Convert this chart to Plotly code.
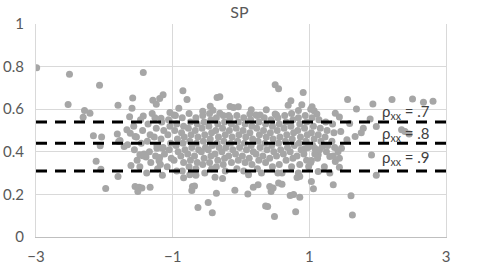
import plotly.graph_objects as go

# ---- data ----
upper_tail = [(-2.99,0.795),(-2.51,0.764),(-2.53,0.622),(-2.07,0.713),(-2.29,0.594),(-2.21,0.581),(-2.31,0.562),
    (-1.80,0.618),(-1.43,0.772),(-1.585,0.652),(-1.595,0.604),(-1.63,0.565),(-1.29,0.642),(-1.24,0.623),(-1.19,0.650),
    (-1.14,0.668),(-0.85,0.687),(-0.79,0.645),(-0.91,0.604),(-1.43,0.568),(-1.30,0.580),(-1.04,0.585),(-0.98,0.573),
    (-1.17,0.557),(-0.56,0.590),(-0.45,0.614),(-0.35,0.655),(-0.31,0.658),(-0.16,0.613),(-0.11,0.608),(-0.31,0.581),
    (-0.41,0.595),(-0.18,0.571),(-0.04,0.612),(0.50,0.715),(0.55,0.696),(0.91,0.678),(0.73,0.640),(0.69,0.618),
    (0.89,0.621),(1.04,0.612),(1.07,0.593),(1.02,0.600),(0.84,0.594),(1.56,0.646),(1.69,0.601),(1.93,0.625),
    (2.21,0.646),(2.51,0.648),(2.67,0.633),(2.81,0.637),(1.44,0.563),(1.89,0.554),(0.37,0.597),(0.15,0.597),
    (0.13,0.578),(0.22,0.573),(0.28,0.573),(0.52,0.573),(0.50,0.578),(1.11,0.578),(1.38,0.581),(1.59,0.533),
    (1.98,0.519),(1.79,0.511),(1.46,0.495),(1.76,0.490),(2.35,0.503),(2.40,0.495),(2.46,0.483),(1.67,0.472),(1.55,0.456)]

left_tail = [(-1.67,0.503),(-1.62,0.487),(-1.55,0.472),(-1.81,0.484),(-2.16,0.475),(-2.04,0.469),(-1.77,0.453),
    (-1.66,0.433),(-1.71,0.425),(-1.79,0.448),(-2.06,0.428),(-1.23,0.417),(-1.15,0.417),(-1.44,0.381),(-1.39,0.376),
    (-1.19,0.373),(-1.20,0.358),(-2.12,0.356),(-2.05,0.318),(-1.80,0.284),(-1.61,0.336),(-1.98,0.228),(-1.55,0.237),
    (-1.49,0.233),(-1.51,0.214),(-1.33,0.233),(-1.45,0.230),(-1.48,0.386)]

lower_tail = [(-0.84,0.278),(-0.75,0.292),(-0.71,0.237),(-0.68,0.240),(-0.72,0.218),(-0.63,0.138),(-0.48,0.162),
    (-0.42,0.114),(-0.36,0.205),(-0.09,0.220),(-0.66,0.290),(-0.38,0.280),(-0.27,0.275),(0.10,0.202),(0.18,0.233),
    (0.25,0.245),(0.42,0.237),(0.44,0.214),(0.55,0.253),(0.60,0.248),(0.47,0.230),(0.72,0.195),(0.77,0.200),
    (0.86,0.187),(1.03,0.261),(1.06,0.226),(1.35,0.245),(0.39,0.143),(0.36,0.146),(0.49,0.096),(0.80,0.118),
    (0.82,0.279),(0.60,0.300),(0.11,0.292),(0.30,0.300),(1.03,0.359),(0.99,0.331),(0.86,0.284),(1.19,0.425),
    (1.13,0.386),(1.30,0.378),(1.38,0.354),(1.13,0.308),(1.30,0.300),(1.44,0.328),(1.44,0.370),(1.47,0.417),
    (0.93,0.414),(1.08,0.417),(1.42,0.400),(1.61,0.194),(1.63,0.103),(1.91,0.385),(1.98,0.290)]

core = [(-1.57,0.52),(-1.53,0.47),(-1.56,0.41),(-1.52,0.36),
    (-1.47,0.55),(-1.44,0.50),(-1.46,0.44),(-1.42,0.39),(-1.48,0.33),
    (-1.36,0.53),(-1.33,0.48),(-1.37,0.45),(-1.34,0.40),(-1.32,0.35),(-1.38,0.30),
    (-1.26,0.56),(-1.24,0.51),(-1.27,0.47),(-1.23,0.43),(-1.25,0.38),(-1.22,0.32),
    (-1.16,0.54),(-1.13,0.50),(-1.17,0.46),(-1.14,0.42),(-1.12,0.39),(-1.18,0.34),(-1.15,0.29),
    (-1.06,0.55),(-1.04,0.52),(-1.07,0.48),(-1.03,0.44),(-1.05,0.41),(-1.02,0.37),(-1.08,0.33),
    (-0.96,0.57),(-0.94,0.53),(-0.97,0.50),(-0.93,0.46),(-0.95,0.43),(-0.92,0.40),(-0.98,0.36),(-0.94,0.31),
    (-0.86,0.56),(-0.84,0.52),(-0.87,0.49),(-0.83,0.47),(-0.85,0.44),(-0.82,0.41),(-0.88,0.38),(-0.84,0.35),(-0.86,0.31),
    (-0.76,0.58),(-0.74,0.54),(-0.77,0.51),(-0.73,0.48),(-0.75,0.45),(-0.72,0.42),(-0.78,0.39),(-0.74,0.36),(-0.76,0.33),(-0.73,0.30),
    (-0.66,0.56),(-0.64,0.53),(-0.67,0.50),(-0.63,0.47),(-0.65,0.44),(-0.62,0.41),(-0.68,0.38),(-0.64,0.35),(-0.66,0.32),
    (-0.56,0.57),(-0.54,0.54),(-0.57,0.51),(-0.53,0.48),(-0.55,0.45),(-0.52,0.42),(-0.58,0.40),(-0.54,0.37),(-0.56,0.34),(-0.53,0.30),
    (-0.46,0.58),(-0.44,0.55),(-0.47,0.52),(-0.43,0.49),(-0.45,0.46),(-0.42,0.43),(-0.48,0.41),(-0.44,0.38),(-0.46,0.35),(-0.43,0.32),
    (-0.36,0.56),(-0.34,0.53),(-0.37,0.50),(-0.33,0.47),(-0.35,0.44),(-0.32,0.42),(-0.38,0.39),(-0.34,0.36),(-0.36,0.33),
    (-0.26,0.57),(-0.24,0.54),(-0.27,0.51),(-0.23,0.48),(-0.25,0.45),(-0.22,0.42),(-0.28,0.40),(-0.24,0.37),(-0.26,0.34),(-0.23,0.31),
    (-0.16,0.56),(-0.14,0.53),(-0.17,0.50),(-0.13,0.47),(-0.15,0.44),(-0.12,0.41),(-0.18,0.38),(-0.14,0.35),
    (-0.06,0.57),(-0.04,0.54),(-0.07,0.51),(-0.03,0.48),(-0.05,0.45),(-0.02,0.42),(-0.08,0.39),(-0.04,0.36),(-0.06,0.32),
    (0.04,0.56),(0.06,0.53),(0.03,0.50),(0.07,0.47),(0.05,0.44),(0.08,0.41),(0.02,0.38),(0.06,0.35),(0.04,0.31),
    (0.14,0.55),(0.16,0.52),(0.13,0.49),(0.17,0.46),(0.15,0.43),(0.18,0.40),(0.12,0.37),(0.16,0.34),
    (0.24,0.57),(0.26,0.54),(0.23,0.51),(0.27,0.48),(0.25,0.45),(0.28,0.42),(0.22,0.39),(0.26,0.36),(0.24,0.32),
    (0.34,0.56),(0.36,0.53),(0.33,0.50),(0.37,0.47),(0.35,0.44),(0.38,0.41),(0.32,0.38),(0.36,0.35),
    (0.44,0.55),(0.46,0.52),(0.43,0.49),(0.47,0.46),(0.45,0.43),(0.48,0.40),(0.42,0.37),(0.46,0.33),
    (0.54,0.56),(0.56,0.53),(0.53,0.50),(0.57,0.47),(0.55,0.44),(0.58,0.41),(0.52,0.38),(0.56,0.34),(0.54,0.30),
    (0.64,0.57),(0.66,0.54),(0.63,0.51),(0.67,0.48),(0.65,0.45),(0.68,0.42),(0.62,0.39),(0.66,0.36),
    (0.74,0.58),(0.76,0.55),(0.73,0.52),(0.77,0.49),(0.75,0.46),(0.78,0.43),(0.72,0.40),(0.76,0.37),(0.74,0.33),
    (0.84,0.56),(0.86,0.53),(0.83,0.50),(0.87,0.47),(0.85,0.44),(0.88,0.41),(0.82,0.38),(0.86,0.34),(0.84,0.30),
    (0.94,0.57),(0.96,0.54),(0.93,0.51),(0.97,0.48),(0.95,0.45),(0.98,0.42),(0.92,0.39),(0.96,0.36),
    (1.04,0.56),(1.06,0.52),(1.03,0.49),(1.07,0.46),(1.05,0.43),(1.08,0.39),(1.02,0.35),
    (1.14,0.55),(1.16,0.51),(1.13,0.48),(1.17,0.45),(1.15,0.41),(1.12,0.37),
    (1.24,0.54),(1.26,0.50),(1.23,0.47),(1.27,0.43),(1.25,0.40),(1.22,0.33),
    (1.34,0.53),(1.36,0.49),(1.33,0.45),(1.37,0.42),(1.35,0.38)]

rho_labels = [".7", ".8", ".9"]
cut_values = [0.54, 0.44, 0.31]
label_y = [0.585, 0.482, 0.370]
x_range = [-3, 3]
x_ticks = [-3, -1, 1, 3]
title_text = "SP"

points = upper_tail + left_tail + lower_tail + core
xs = [p[0] for p in points]
ys = [p[1] for p in points]

fig = go.Figure()
fig.add_trace(go.Scatter(x=xs, y=ys, mode="markers",
                         marker=dict(color="#A6A6A6", size=7, line=dict(width=0)),
                         showlegend=False, hoverinfo="skip"))
for v in cut_values:
    fig.add_trace(go.Scatter(x=x_range, y=[v, v], mode="lines",
                             line=dict(color="#000000", width=3, dash="11px,8px"),
                             showlegend=False, hoverinfo="skip"))

for lab, yv in zip(rho_labels, label_y):
    fig.add_annotation(x=2.80, y=yv, xref="x", yref="y", xanchor="right", yanchor="middle",
                       text="ρ<sub>xx</sub> = " + lab, showarrow=False,
                       font=dict(family="Lato", size=15, color="#404040"))

fig.update_layout(
    width=486, height=270,
    margin=dict(l=36, r=40, t=24, b=33),
    paper_bgcolor="white", plot_bgcolor="white",
    font=dict(family="Lato", size=15, color="#595959"),
    title=dict(text=title_text, x=0.496, xref="paper", y=1 - 12 / 270, yref="container",
               xanchor="center", yanchor="middle",
               font=dict(family="Lato", size=16, color="#595959")),
    xaxis=dict(range=x_range, tickvals=x_ticks, showgrid=True, gridcolor="#D9D9D9", gridwidth=1,
               zeroline=False, showline=True, linecolor="#BFBFBF", linewidth=1, automargin=False,
               ticks="outside", ticklen=6, tickcolor="rgba(0,0,0,0)"),
    yaxis=dict(range=[0, 1], dtick=0.2, tick0=0, showgrid=True, gridcolor="#D9D9D9", gridwidth=1,
               zeroline=False, showline=True, linecolor="#D9D9D9", linewidth=1, mirror=True, automargin=False,
               ticks="outside", ticklen=8, tickcolor="rgba(0,0,0,0)"),
)

fig.write_html("out.html")
